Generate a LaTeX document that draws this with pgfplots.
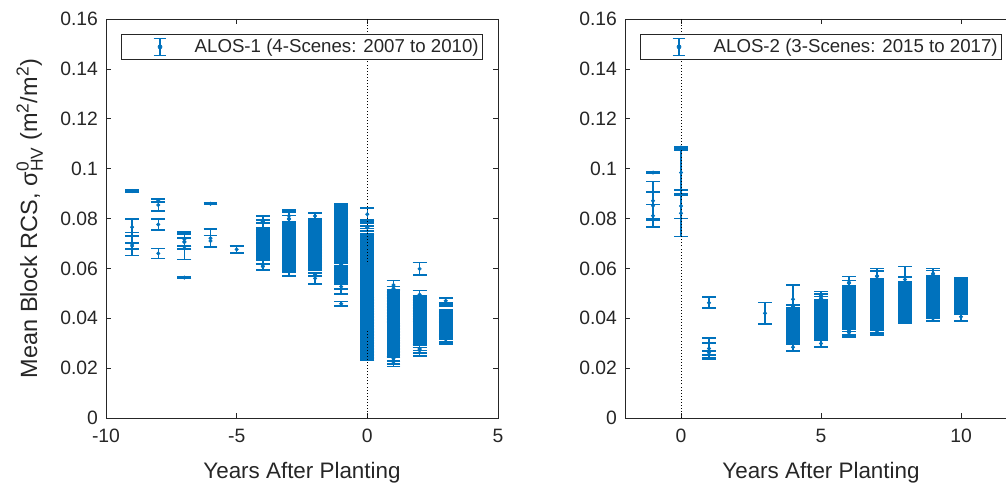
\documentclass[border=0pt]{standalone}
\usepackage{pgfplots}
\pgfplotsset{compat=1.18}
\usepackage{fontspec}
\setmainfont{Liberation Sans}

\definecolor{mblue}{RGB}{0,114,189}
\definecolor{axgray}{RGB}{38,38,38}

\newcommand{\tickfont}{\fontsize{14.5}{17}\selectfont}
\newcommand{\legfont}{\fontsize{14}{17}\selectfont}
\newcommand{\labfont}{\fontsize{16.8}{20}\selectfont}
\newcommand{\ylabfont}{\fontsize{17.6}{21}\selectfont}
\newcommand{\supfont}{\fontsize{13}{13}\selectfont}

\pgfplotsset{
  rcspanel/.style={
    scale only axis, width=294pt, height=299.25pt,
    ymin=0, ymax=0.16,
    ytick={0,0.02,0.04,0.06,0.08,0.1,0.12,0.14,0.16},
    yticklabels={0,0.02,0.04,0.06,0.08,0.1,0.12,0.14,0.16},
    tick align=inside,
    major tick length=3.5pt,
    axis line style={axgray, line width=0.5pt},
    every tick/.style={axgray, line width=0.5pt},
    ticklabel style={font=\tickfont, text=axgray},
    yticklabel style={xshift=-2.5pt},
    xticklabel style={yshift=-5pt},
    xlabel={Years After Planting},
    xlabel style={font=\labfont, text=axgray, at={(axis description cs:0.5,-0.152)}, anchor=base},
    legend style={at={(0.5,0.962)}, anchor=north, draw=axgray, line width=0.5pt,
      font=\legfont, text=axgray, inner xsep=1pt, inner ysep=1.5pt},
    legend cell align=left,
    legend image code/.code={
      \path[draw=none] (0pt,0pt) -- (52pt,0pt);
      \draw[mblue, line width=0.9pt] (28pt,-6.6pt) -- (28pt,6.6pt);
      \draw[mblue, line width=0.9pt] (23.2pt,-6.6pt) -- (32.8pt,-6.6pt)
                                     (23.2pt,6.6pt) -- (32.8pt,6.6pt);
      \fill[mblue] (28pt,0pt) circle (1.5pt);
    },
  },
  errplot/.style={
    mblue, only marks, mark=*, mark size=1.3pt,
    mark options={draw=mblue, fill=mblue},
    error bars/.cd, y dir=both, y explicit,
    error bar style={line width=1.1pt, mblue},
    error mark=-,
    error mark options={rotate=90, line width=1.3pt, mark size=5.2pt, mblue},
  },
  zeroline/.style={black, line width=0.6pt, dash pattern=on 0.6pt off 1.7pt, forget plot},
}

% Block means and their half-widths (x = years after planting)
\pgfplotstableread{
x y e
-9 0.0910 0.0003
-9 0.0765 0.0034
-9 0.0698 0.0046
-9 0.0690 0.0012
-8 0.0871 0.0005
-8 0.0854 0.0023
-8 0.0776 0.0022
-8 0.0660 0.0020
-7 0.0717 0.0028
-7 0.0707 0.0030
-7 0.0687 0.0051
-7 0.0705 0.0016
-7 0.0563 0.0003
-6 0.0859 0.0003
-6 0.0721 0.0036
-6 0.0710 0.0022
-5 0.0676 0.0015
-4 0.0786 0.0025
-4 0.0788 0.0006
-4 0.0607 0.0011
-4 0.0614 0.0020
-4 0.0666 0.0032
-4 0.0672 0.0032
-4 0.0679 0.0032
-4 0.0685 0.0032
-4 0.0692 0.0032
-4 0.0698 0.0032
-4 0.0704 0.0032
-4 0.0711 0.0032
-4 0.0717 0.0032
-4 0.0724 0.0032
-4 0.0730 0.0032
-3 0.0811 0.0023
-3 0.0800 0.0025
-3 0.0797 0.0015
-3 0.0590 0.0021
-3 0.0592 0.0008
-3 0.0639 0.0046
-3 0.0645 0.0046
-3 0.0651 0.0046
-3 0.0657 0.0046
-3 0.0664 0.0046
-3 0.0670 0.0046
-3 0.0676 0.0046
-3 0.0682 0.0046
-3 0.0688 0.0046
-3 0.0694 0.0046
-3 0.0700 0.0046
-3 0.0706 0.0046
-3 0.0713 0.0046
-3 0.0719 0.0046
-3 0.0725 0.0046
-3 0.0731 0.0046
-2 0.0810 0.0013
-2 0.0560 0.0023
-2 0.0575 0.0006
-2 0.0645 0.0052
-2 0.0651 0.0052
-2 0.0657 0.0052
-2 0.0663 0.0052
-2 0.0669 0.0052
-2 0.0675 0.0052
-2 0.0681 0.0052
-2 0.0687 0.0052
-2 0.0693 0.0052
-2 0.0700 0.0052
-2 0.0706 0.0052
-2 0.0712 0.0052
-2 0.0718 0.0052
-2 0.0724 0.0052
-2 0.0730 0.0052
-2 0.0736 0.0052
-2 0.0742 0.0052
-2 0.0748 0.0052
-1 0.0830 0.0028
-1 0.0835 0.0015
-1 0.0527 0.0011
-1 0.0518 0.0022
-1 0.0458 0.0009
-1 0.0615 0.0075
-1 0.0621 0.0075
-1 0.0627 0.0075
-1 0.0633 0.0075
-1 0.0639 0.0075
-1 0.0645 0.0075
-1 0.0651 0.0075
-1 0.0657 0.0075
-1 0.0663 0.0075
-1 0.0669 0.0075
-1 0.0675 0.0075
-1 0.0681 0.0075
-1 0.0687 0.0075
-1 0.0694 0.0075
-1 0.0700 0.0075
-1 0.0706 0.0075
-1 0.0712 0.0075
-1 0.0718 0.0075
-1 0.0724 0.0075
-1 0.0730 0.0075
-1 0.0736 0.0075
-1 0.0742 0.0075
-1 0.0748 0.0075
-1 0.0754 0.0075
-1 0.0760 0.0075
-1 0.0766 0.0075
0 0.0817 0.0024
0 0.0762 0.0025
0 0.0766 0.0015
0 0.0765 0.0005
0 0.0358 0.0125
0 0.0364 0.0125
0 0.0370 0.0125
0 0.0376 0.0125
0 0.0382 0.0125
0 0.0389 0.0125
0 0.0395 0.0125
0 0.0401 0.0125
0 0.0407 0.0125
0 0.0413 0.0125
0 0.0419 0.0125
0 0.0425 0.0125
0 0.0431 0.0125
0 0.0437 0.0125
0 0.0444 0.0125
0 0.0450 0.0125
0 0.0456 0.0125
0 0.0462 0.0125
0 0.0468 0.0125
0 0.0474 0.0125
0 0.0480 0.0125
0 0.0486 0.0125
0 0.0492 0.0125
0 0.0499 0.0125
0 0.0505 0.0125
0 0.0511 0.0125
0 0.0517 0.0125
0 0.0523 0.0125
0 0.0529 0.0125
0 0.0535 0.0125
0 0.0541 0.0125
0 0.0547 0.0125
0 0.0554 0.0125
0 0.0560 0.0125
0 0.0566 0.0125
0 0.0572 0.0125
0 0.0578 0.0125
0 0.0584 0.0125
0 0.0590 0.0125
0 0.0596 0.0125
0 0.0603 0.0125
0 0.0609 0.0125
1 0.0533 0.0018
1 0.0520 0.0007
1 0.0225 0.0019
1 0.0230 0.0013
1 0.0238 0.0008
1 0.0313 0.0067
1 0.0319 0.0067
1 0.0325 0.0067
1 0.0331 0.0067
1 0.0337 0.0067
1 0.0343 0.0067
1 0.0349 0.0067
1 0.0355 0.0067
1 0.0361 0.0067
1 0.0367 0.0067
1 0.0373 0.0067
1 0.0380 0.0067
1 0.0386 0.0067
1 0.0392 0.0067
1 0.0398 0.0067
1 0.0404 0.0067
1 0.0410 0.0067
1 0.0416 0.0067
1 0.0422 0.0067
1 0.0428 0.0067
1 0.0434 0.0067
1 0.0440 0.0067
1 0.0446 0.0067
2 0.0598 0.0026
2 0.0495 0.0016
2 0.0484 0.0005
2 0.0271 0.0022
2 0.0277 0.0006
2 0.0276 0.0016
2 0.0340 0.0047
2 0.0346 0.0047
2 0.0352 0.0047
2 0.0359 0.0047
2 0.0365 0.0047
2 0.0371 0.0047
2 0.0377 0.0047
2 0.0383 0.0047
2 0.0390 0.0047
2 0.0396 0.0047
2 0.0402 0.0047
2 0.0408 0.0047
2 0.0414 0.0047
2 0.0421 0.0047
2 0.0427 0.0047
2 0.0433 0.0047
3 0.0470 0.0012
3 0.0455 0.0007
3 0.0315 0.0018
3 0.0317 0.0011
3 0.0322 0.0005
3 0.0353 0.0027
3 0.0359 0.0027
3 0.0365 0.0027
3 0.0371 0.0027
3 0.0377 0.0027
3 0.0382 0.0027
3 0.0388 0.0027
3 0.0394 0.0027
3 0.0400 0.0027
3 0.0406 0.0027
}\alosone

\pgfplotstableread{
x y e
-1 0.0984 0.0003
-1 0.0871 0.0077
-1 0.0851 0.0054
-1 0.0811 0.0045
0 0.1085 0.0003
0 0.0984 0.0091
0 0.0850 0.0050
0 0.0821 0.0093
1 0.0462 0.0022
1 0.0279 0.0041
1 0.0262 0.0008
1 0.0270 0.0030
3 0.0420 0.0043
4 0.0476 0.0056
4 0.0447 0.0006
4 0.0284 0.0015
4 0.0333 0.0036
4 0.0339 0.0036
4 0.0345 0.0036
4 0.0351 0.0036
4 0.0357 0.0036
4 0.0363 0.0036
4 0.0369 0.0036
4 0.0374 0.0036
4 0.0380 0.0036
4 0.0386 0.0036
4 0.0392 0.0036
4 0.0398 0.0036
4 0.0404 0.0036
5 0.0490 0.0017
5 0.0480 0.0017
5 0.0480 0.0007
5 0.0299 0.0015
5 0.0353 0.0040
5 0.0359 0.0040
5 0.0365 0.0040
5 0.0371 0.0040
5 0.0378 0.0040
5 0.0384 0.0040
5 0.0390 0.0040
5 0.0396 0.0040
5 0.0402 0.0040
5 0.0408 0.0040
5 0.0415 0.0040
5 0.0421 0.0040
5 0.0427 0.0040
5 0.0433 0.0040
6 0.0544 0.0023
6 0.0540 0.0011
6 0.0342 0.0018
6 0.0345 0.0012
6 0.0352 0.0005
6 0.0402 0.0042
6 0.0408 0.0042
6 0.0414 0.0042
6 0.0420 0.0042
6 0.0426 0.0042
6 0.0432 0.0042
6 0.0438 0.0042
6 0.0444 0.0042
6 0.0449 0.0042
6 0.0455 0.0042
6 0.0461 0.0042
6 0.0467 0.0042
6 0.0473 0.0042
6 0.0479 0.0042
6 0.0485 0.0042
7 0.0567 0.0033
7 0.0570 0.0018
7 0.0350 0.0017
7 0.0350 0.0008
7 0.0359 0.0006
7 0.0414 0.0048
7 0.0420 0.0048
7 0.0426 0.0048
7 0.0432 0.0048
7 0.0438 0.0048
7 0.0444 0.0048
7 0.0449 0.0048
7 0.0455 0.0048
7 0.0461 0.0048
7 0.0467 0.0048
7 0.0473 0.0048
7 0.0479 0.0048
7 0.0485 0.0048
7 0.0491 0.0048
7 0.0496 0.0048
7 0.0502 0.0048
7 0.0508 0.0048
8 0.0565 0.0042
8 0.0555 0.0009
8 0.0388 0.0009
8 0.0426 0.0040
8 0.0432 0.0040
8 0.0438 0.0040
8 0.0445 0.0040
8 0.0451 0.0040
8 0.0457 0.0040
8 0.0463 0.0040
8 0.0470 0.0040
8 0.0476 0.0040
8 0.0482 0.0040
8 0.0488 0.0040
8 0.0494 0.0040
8 0.0501 0.0040
8 0.0507 0.0040
9 0.0577 0.0023
9 0.0580 0.0011
9 0.0399 0.0009
9 0.0405 0.0005
9 0.0445 0.0039
9 0.0451 0.0039
9 0.0457 0.0039
9 0.0462 0.0039
9 0.0468 0.0039
9 0.0474 0.0039
9 0.0480 0.0039
9 0.0486 0.0039
9 0.0492 0.0039
9 0.0497 0.0039
9 0.0503 0.0039
9 0.0509 0.0039
9 0.0515 0.0039
9 0.0521 0.0039
10 0.0553 0.0007
10 0.0540 0.0012
10 0.0406 0.0016
10 0.0422 0.0005
10 0.0462 0.0029
10 0.0468 0.0029
10 0.0474 0.0029
10 0.0480 0.0029
10 0.0487 0.0029
10 0.0493 0.0029
10 0.0499 0.0029
10 0.0505 0.0029
10 0.0512 0.0029
10 0.0518 0.0029
}\alostwo

\begin{document}
\begin{tikzpicture}
\useasboundingbox (0pt,0pt) rectangle (754.5pt,363pt);

% ALOS-1 panel
\begin{axis}[rcspanel,
  at={(79.5pt,49.5pt)}, anchor=south west,
  xmin=-10, xmax=5,
  xtick={-10,-5,0,5}, xticklabels={-10,-5,0,5},
  ylabel={Mean Block RCS, σ$^{\hbox{\supfont 0}}_{\hbox{\supfont HV}}$ (m$^{\hbox{\supfont 2}}$/m$^{\hbox{\supfont 2}}$)},
  ylabel style={font=\ylabfont, text=axgray, at={(axis description cs:-0.176,0.5)}, anchor=base},
]
\addplot+[errplot] table[x=x, y=y, y error=e] {\alosone};
\addlegendentry{ALOS-1 (4-Scenes: 2007 to 2010)}
\addplot[zeroline] coordinates {(0,0) (0,0.16)};
\end{axis}

% ALOS-2 panel
\begin{axis}[rcspanel,
  at={(468.75pt,49.5pt)}, anchor=south west,
  xmin=-2, xmax=12,
  xtick={0,5,10}, xticklabels={0,5,10},
]
\addplot+[errplot] table[x=x, y=y, y error=e] {\alostwo};
\addlegendentry{ALOS-2 (3-Scenes: 2015 to 2017)}
\addplot[zeroline] coordinates {(0,0) (0,0.16)};
\end{axis}
\end{tikzpicture}
\end{document}
